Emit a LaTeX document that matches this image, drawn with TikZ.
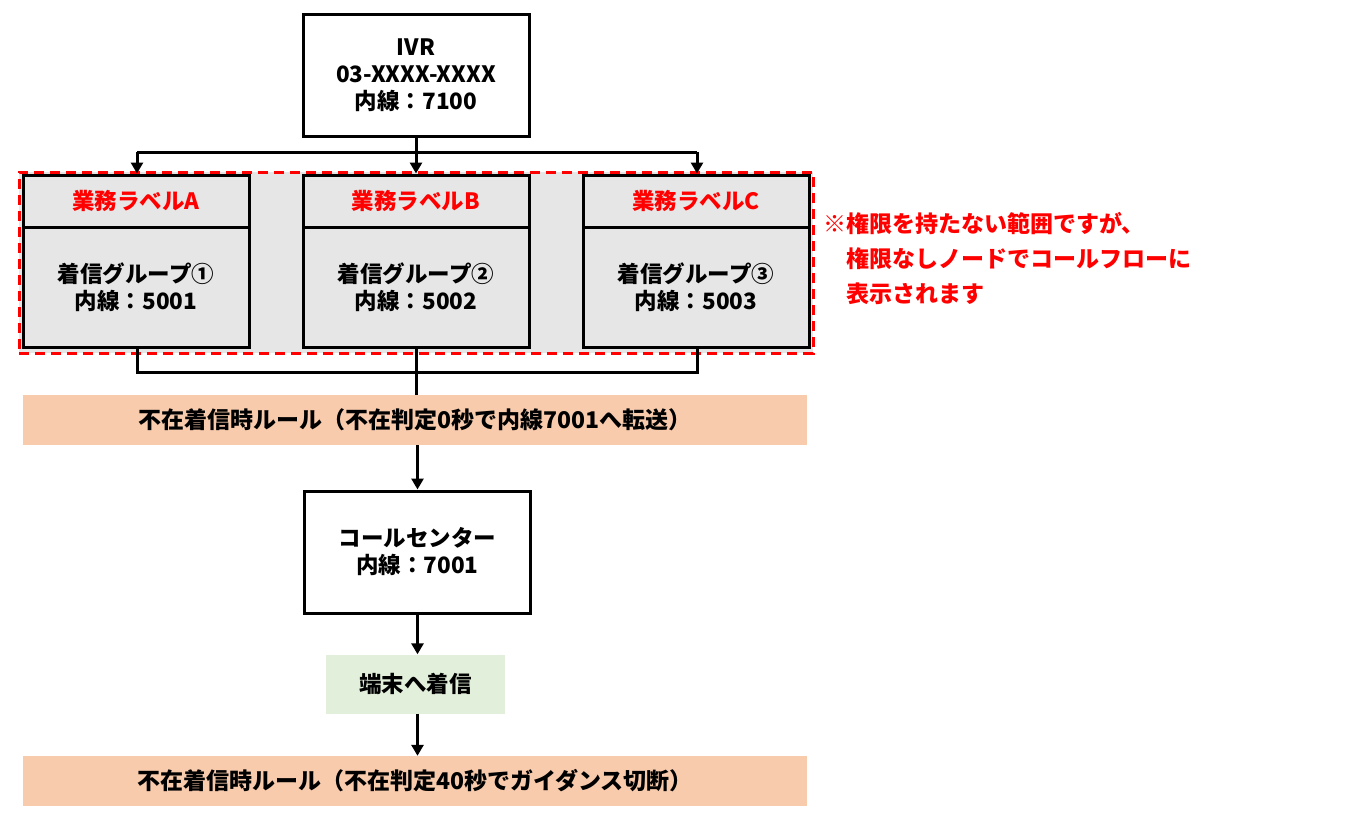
\documentclass[tikz,border=0pt]{standalone}
\usepackage{fontspec}
\setmainfont{Noto Sans CJK JP}
\usetikzlibrary{arrows.meta}
\definecolor{boxgray}{HTML}{E6E6E6}
\definecolor{barorange}{HTML}{F8CBAD}
\definecolor{bargreen}{HTML}{E2EFDA}
\definecolor{notered}{HTML}{FF0000}
\tikzset{
  txt/.style={font=\fontsize{22.5}{27}\selectfont\bfseries, align=center, text=black},
  whitebox/.style={txt, draw=black, line width=3pt, fill=white, minimum width=226pt, minimum height=122pt, inner sep=0pt},
  hdrbox/.style={draw=black, line width=3pt, fill=boxgray, minimum width=226pt, minimum height=52pt, inner sep=0pt, font=\fontsize{22.5}{27}\selectfont\bfseries, text=notered},
  bodybox/.style={txt, draw=black, line width=3pt, fill=boxgray, minimum width=226pt, minimum height=120pt, inner sep=0pt},
  barbox/.style={fill=barorange, minimum width=784pt, minimum height=50pt, inner sep=0pt, font=\fontsize{23}{26}\selectfont\bfseries},
  greenbox/.style={txt, fill=bargreen, minimum width=179pt, minimum height=59pt, inner sep=0pt},
  conn/.style={draw=black, line width=3pt},
  arr/.style={conn, -{Triangle[length=11pt,width=12pt]}},
}
\begin{document}
\begin{tikzpicture}[x=1pt,y=-1pt]
\useasboundingbox (0,0) rectangle (1358,820);
% dashed region
\node[draw=notered, line width=3pt, dash pattern=on 10pt off 6pt, fill=boxgray, minimum width=794pt, minimum height=181pt, inner sep=0pt] (region) at (416,262.5) {};
% IVR
\node[whitebox] (ivr) at (416,75) {IVR\\03-XXXX-XXXX\\内線：7100};
% groups
\node[hdrbox] (hdrA) at (136,201) {業務ラベルA};
\node[bodybox] (bodyA) at (136,287) {着信グループ①\\内線：5001};
\node[hdrbox] (hdrB) at (416,201) {業務ラベルB};
\node[bodybox] (bodyB) at (416,287.5) {着信グループ②\\内線：5002};
\node[hdrbox] (hdrC) at (696,201) {業務ラベルC};
\node[bodybox] (bodyC) at (696,287.5) {着信グループ③\\内線：5003};
% note
\node[anchor=north west, align=left, text=notered, font=\fontsize{23}{35}\selectfont\bfseries, inner sep=0pt] (note) at (823,212) {※権限を持たない範囲ですが、\\　権限なしノードでコールフローに\\　表示されます};
% bars
\node[barbox] (bar1) at (415,420) {不在着信時ルール（不在判定0秒で内線7001へ転送）};
\node[whitebox] (cc) at (417.5,552) {コールセンター\\内線：7001};
\node[greenbox] (term) at (415.5,684) {端末へ着信};
\node[barbox] (bar2) at (415,781) {不在着信時ルール（不在判定40秒でガイダンス切断）};
% top connectors
\coordinate (jA) at (137,152);
\coordinate (jC) at (697,152);
\draw[conn] (jA) -- (jC);
\draw[arr] (ivr.south) -- (hdrB.north);
\draw[arr] (jA) -- (hdrA.north -| jA);
\draw[arr] (jC) -- (hdrC.north -| jC);
% bottom connectors
\coordinate (kA) at (137,372);
\coordinate (kC) at (697,372);
\draw[conn] (bodyA.south -| kA) -- (kA) -- (kC) -- (bodyC.south -| kC);
\draw[conn] (bodyB.south) -- (bar1.north -| bodyB.south);
\draw[arr] (bar1.south -| cc.north) -- (cc.north);
\draw[arr] (cc.south) -- (term.north -| cc.south);
\draw[arr] (term.south -| cc.south) -- (bar2.north -| cc.south);
\end{tikzpicture}
\end{document}
